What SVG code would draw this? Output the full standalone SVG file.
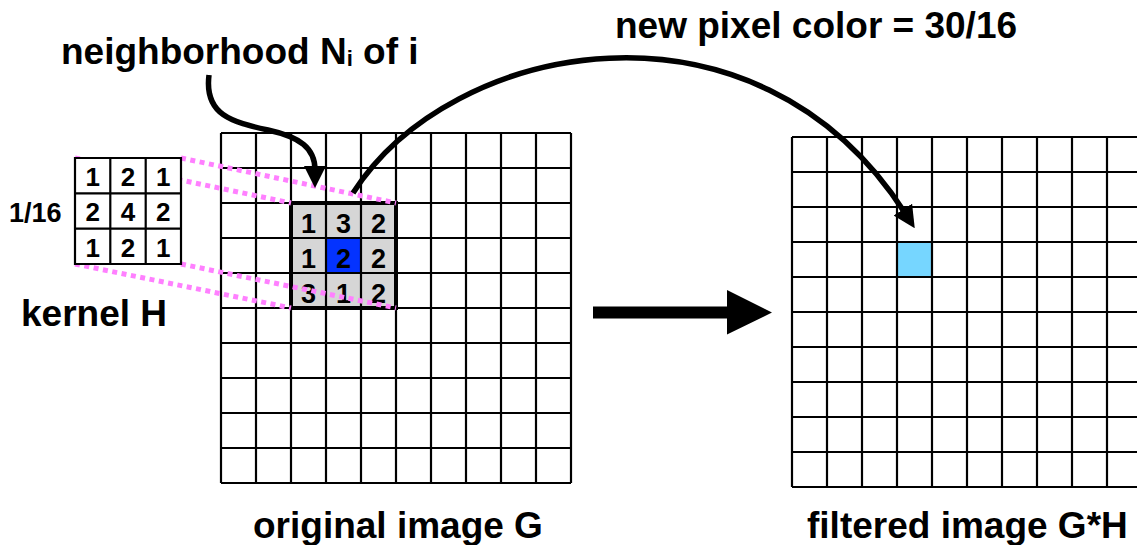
<svg xmlns="http://www.w3.org/2000/svg" width="1137" height="545" viewBox="0 0 1137 545">
  <style>
    text { font-family: "Liberation Sans", Arial, Helvetica, sans-serif; font-weight: bold; fill: #000; }
    .label { font-size: 37px; }
    .digit { font-size: 26px; text-anchor: middle; }
    .ndigit { font-size: 27px; text-anchor: middle; }
    .grid { fill: none; stroke: #000; stroke-width: 2.2; }
    .proj { fill: none; stroke: #ff80ff; stroke-width: 5; stroke-dasharray: 5 4.5; }
    .curve { fill: none; stroke: #000; stroke-width: 5.5; marker-end: url(#head); }
  </style>
  <defs>
    <marker id="head" markerUnits="userSpaceOnUse" viewBox="0 0 22 22" markerWidth="22" markerHeight="22" refX="4" refY="11" orient="auto">
      <path d="M0,0 L22,11 L0,22 Z" fill="#000"/>
    </marker>
  </defs>
  <rect width="1137" height="545" fill="#fff"/>

  <!-- original image G: 10x10 pixel grid -->
  <g id="original-image">
    <path class="grid" d="M221,133V483 M256,133V483 M291,133V483 M326,133V483 M361,133V483 M396,133V483 M431,133V483 M466,133V483 M501,133V483 M536,133V483 M571,133V483
      M221,133H571 M221,168H571 M221,203H571 M221,238H571 M221,273H571 M221,308H571 M221,343H571 M221,378H571 M221,413H571 M221,448H571 M221,483H571"/>
  </g>

  <!-- neighborhood N_i around pixel i -->
  <g id="neighborhood">
    <rect x="291" y="203" width="105" height="105" fill="#d6d6d6"/>
    <rect x="326" y="238" width="35" height="35" fill="#0433ff"/>
    <path class="grid" d="M326,203V308 M361,203V308 M291,238H396 M291,273H396"/>
    <rect x="291" y="203" width="105" height="105" fill="none" stroke="#000" stroke-width="4"/>
    <text class="ndigit" x="308.5" y="233">1</text>
    <text class="ndigit" x="343.5" y="233">3</text>
    <text class="ndigit" x="378.5" y="233">2</text>
    <text class="ndigit" x="308.5" y="268">1</text>
    <text class="ndigit" x="343.5" y="268">2</text>
    <text class="ndigit" x="378.5" y="268">2</text>
    <text class="ndigit" x="308.5" y="303">3</text>
    <text class="ndigit" x="343.5" y="303">1</text>
    <text class="ndigit" x="378.5" y="303">2</text>
  </g>

  <!-- kernel projection onto the neighborhood -->
  <g id="connectors">
    <path class="proj" d="M181,158 L396,203"/>
    <path class="proj" d="M75,158 L291,203"/>
    <path class="proj" d="M75,264 L291,308"/>
    <path class="proj" d="M181,264 L396,308"/>
  </g>

  <!-- kernel H -->
  <g id="kernel">
    <rect x="75" y="158" width="106" height="106" fill="#fff"/>
    <path class="grid" d="M75,158H181V264H75Z M110.3,158V264 M145.7,158V264 M75,193.3H181 M75,228.7H181"/>
    <text class="digit" x="92.7" y="185.5">1</text>
    <text class="digit" x="128" y="185.5">2</text>
    <text class="digit" x="163.3" y="185.5">1</text>
    <text class="digit" x="92.7" y="221">2</text>
    <text class="digit" x="128" y="221">4</text>
    <text class="digit" x="163.3" y="221">2</text>
    <text class="digit" x="92.7" y="256.5">1</text>
    <text class="digit" x="128" y="256.5">2</text>
    <text class="digit" x="163.3" y="256.5">1</text>
    <text x="9" y="222" font-size="27">1/16</text>
    <text class="label" x="21" y="326">kernel H</text>
  </g>

  <!-- filtered image G*H -->
  <g id="filtered-image">
    <rect x="897" y="242" width="35" height="35" fill="#76d6ff"/>
    <path class="grid" d="M792,137V487 M827,137V487 M862,137V487 M897,137V487 M932,137V487 M967,137V487 M1002,137V487 M1037,137V487 M1072,137V487 M1107,137V487 M1142,137V487
      M792,137H1142 M792,172H1142 M792,207H1142 M792,242H1142 M792,277H1142 M792,312H1142 M792,347H1142 M792,382H1142 M792,417H1142 M792,452H1142 M792,487H1142"/>
  </g>

  <!-- arrows -->
  <g id="arrows">
    <path class="curve" d="M209,75 C204,115 232,122 268,130 C300,137 315,148 315,170"/>
    <path class="curve" d="M353,193 C450,40 755,-20 905,213"/>
    <path d="M593,306.5 H727 V290 L772,312.5 L727,334.5 V318.5 H593 Z" fill="#000"/>
  </g>

  <!-- captions -->
  <g id="labels">
    <text class="label" x="61" y="64">neighborhood N<tspan font-size="22" dy="2">i</tspan><tspan dy="-2"> of i</tspan></text>
    <text class="label" x="615" y="37.5">new pixel color = 30/16</text>
    <text class="label" x="253" y="538">original image G</text>
    <text class="label" x="807" y="538">filtered image G*H</text>
  </g>
</svg>
